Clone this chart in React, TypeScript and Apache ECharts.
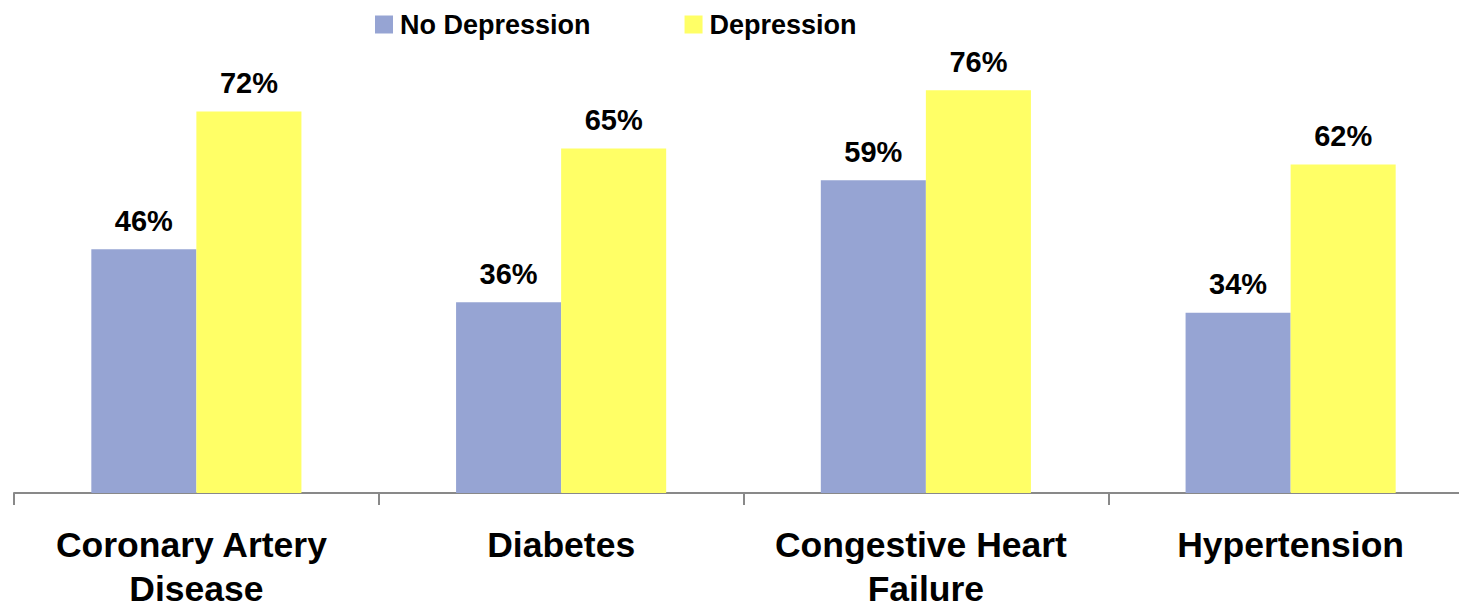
import React, { useEffect, useRef } from "react";
import * as echarts from "echarts";

const categories = ["Coronary Artery Disease", "Diabetes", "Congestive Heart Failure", "Hypertension"];
const noDepression = [46, 36, 59, 34];
const depression = [72, 65, 76, 62];
const seriesNames = ["No Depression", "Depression"];

const FONT = "'Liberation Sans', Arial, sans-serif";

export default function App() {
  const ref = useRef<HTMLDivElement>(null);
  useEffect(() => {
    if (!ref.current) return;
    const chart = echarts.init(ref.current, undefined, { renderer: "svg" });
    const labelStyle = {
      show: true,
      position: "top",
      distance: 14,
      formatter: "{c}%",
      fontSize: 29,
      fontWeight: "bold",
      color: "#000",
      fontFamily: FONT,
    };
    chart.setOption({
      animation: false,
      backgroundColor: "#fff",
      legend: {
        data: seriesNames,
        left: 370,
        top: 6,
        itemWidth: 18,
        itemHeight: 18,
        itemGap: 94,
        icon: "rect",
        textStyle: { fontSize: 27, fontWeight: "bold", color: "#000", fontFamily: FONT, padding: [0, 0, 0, 2] },
      },
      grid: { left: 14, right: -14, top: 69, bottom: 111, containLabel: false, outerBoundsMode: "none" },
      xAxis: {
        type: "category",
        data: categories,
        axisLine: { show: true, lineStyle: { color: "#898989", width: 2 } },
        axisTick: { show: true, length: 12, lineStyle: { color: "#898989", width: 2 } },
        axisLabel: {
          margin: 30,
          fontSize: 35.5,
          fontWeight: "bold",
          color: "#000",
          fontFamily: FONT,
          lineHeight: 44,
          width: 350,
          overflow: "break",
          interval: 0,
        },
      },
      yAxis: { type: "value", min: 0, max: 80, show: false, splitLine: { show: false } },
      series: [
        {
          name: seriesNames[0],
          type: "bar",
          data: noDepression,
          barGap: "0%",
          barCategoryGap: "42.4%",
          itemStyle: { color: "#96A4D3" },
          label: labelStyle,
        },
        {
          name: seriesNames[1],
          type: "bar",
          data: depression,
          barGap: "0%",
          barCategoryGap: "42.4%",
          itemStyle: { color: "#FFFF66" },
          label: labelStyle,
        },
      ],
    });
    return () => chart.dispose();
  }, []);
  return (
    <div
      ref={ref}
      style={{ position: "fixed", left: 0, top: 0, width: 1459, height: 604, background: "#fff" }}
    />
  );
}
